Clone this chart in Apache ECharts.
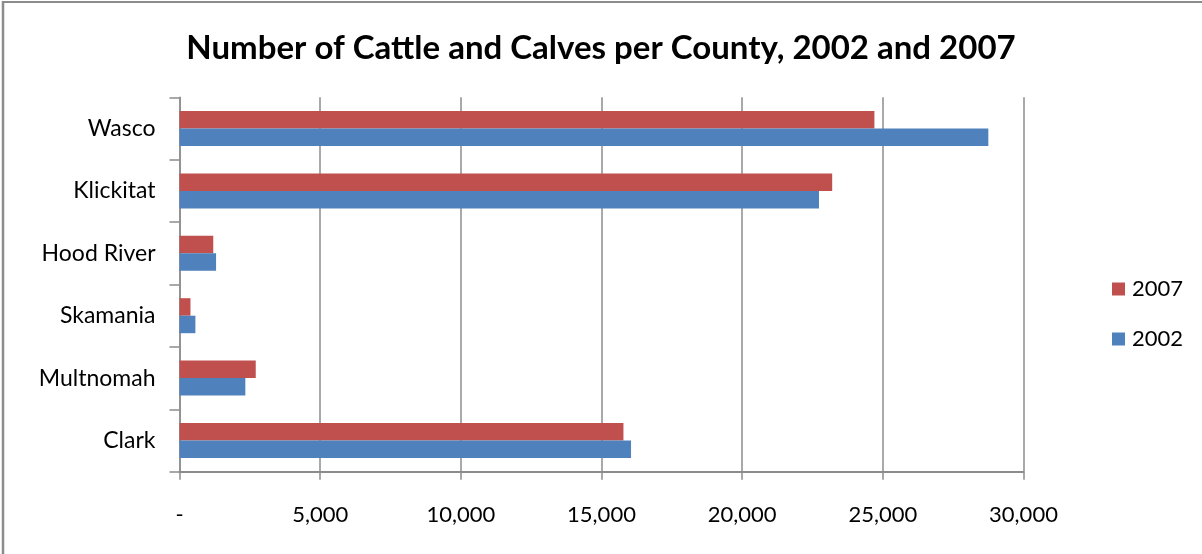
<!DOCTYPE html>
<html>
<head>
<meta charset="utf-8">
<script src="https://cdn.jsdelivr.net/npm/echarts@6/dist/echarts.min.js"></script>
<style>
html,body{margin:0;padding:0;background:#fff;}
#c{width:1202px;height:554px;}
</style>
</head>
<body>
<div id="c"></div>
<script>
const categories = ['Wasco', 'Klickitat', 'Hood River', 'Skamania', 'Multnomah', 'Clark'];
const values2007 = [24700, 23200, 1200, 390, 2710, 15780];
const values2002 = [28750, 22730, 1300, 565, 2340, 16050];
const seriesNames = ['2007', '2002'];
const xTicks = [0, 5000, 10000, 15000, 20000, 25000, 30000];

const FONT = 'Lato';
const chart = echarts.init(document.getElementById('c'));
chart.setOption({
  animation: false,
  backgroundColor: '#fff',
  title: {
    text: 'Number of Cattle and Calves per County, 2002 and 2007',
    left: 'center',
    top: 27,
    textStyle: { fontFamily: FONT, fontWeight: 'bold', fontSize: 33, color: '#000' }
  },
  legend: {
    orient: 'vertical',
    left: 1107,
    top: 273,
    itemWidth: 13,
    itemHeight: 13,
    itemGap: 28,
    icon: 'rect',
    data: seriesNames,
    textStyle: { fontFamily: FONT, fontSize: 22, color: '#000', padding: [0, 0, 0, 2] }
  },
  grid: { left: 179.5, right: 178.5, top: 97.3, bottom: 82.3, containLabel: false },
  xAxis: {
    type: 'value',
    min: xTicks[0],
    max: xTicks[xTicks.length - 1],
    interval: xTicks[1] - xTicks[0],
    axisLine: { show: true, lineStyle: { color: '#8c8c8c', width: 2 } },
    axisTick: { show: true, length: 8, lineStyle: { color: '#8c8c8c', width: 1.5 } },
    splitLine: { show: true, lineStyle: { color: '#8c8c8c', width: 1.5 } },
    axisLabel: {
      margin: 32,
      fontFamily: FONT, fontSize: 22, color: '#000',
      formatter: v => v === 0 ? '-' : v.toLocaleString('en-US')
    }
  },
  yAxis: {
    type: 'category',
    data: categories,
    inverse: true,
    axisLine: { show: true, lineStyle: { color: '#8c8c8c', width: 1.5 } },
    axisTick: { show: true, length: 10, lineStyle: { color: '#8c8c8c', width: 1.5 } },
    axisLabel: { margin: 24, fontFamily: FONT, fontSize: 23, color: '#000' }
  },
  series: [
    { name: seriesNames[0], type: 'bar', data: values2007, barWidth: 17.5, barGap: '0%',
      itemStyle: { color: '#C0504D' } },
    { name: seriesNames[1], type: 'bar', data: values2002, barWidth: 17.5, barGap: '0%',
      itemStyle: { color: '#4F81BD' } }
  ],
  graphic: [
    { type: 'line', shape: { x1: 3, y1: 2, x2: 1202, y2: 2 }, style: { stroke: '#8c8c8c', lineWidth: 2 } },
    { type: 'line', shape: { x1: 3, y1: 1, x2: 3, y2: 554 }, style: { stroke: '#8c8c8c', lineWidth: 2.5 } }
  ]
});
</script>
</body>
</html>
